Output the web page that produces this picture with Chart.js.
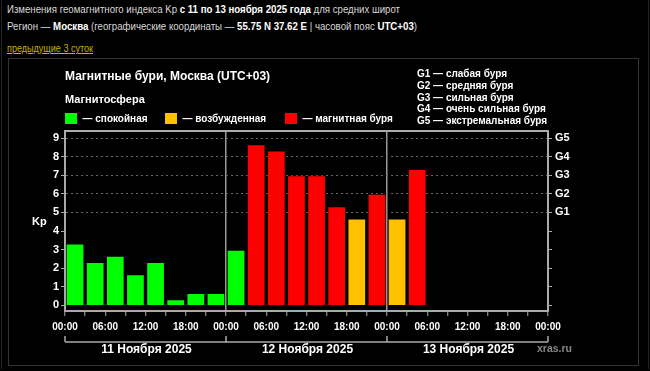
<!DOCTYPE html>
<html>
<head>
<meta charset="utf-8">
<script src="https://cdn.jsdelivr.net/npm/chart.js@4.4.0/dist/chart.umd.min.js"></script>
<style>
  html, body { margin: 0; padding: 0; background: #000; }
  body { width: 650px; height: 371px; position: relative; overflow: hidden; font-family: "Liberation Sans", Arial, sans-serif; }
  #frame { position: absolute; left: 1px; top: 0; width: 646px; height: 369px; border-left: 1px solid #222; border-right: 1px solid #222; }
  #box { position: absolute; left: 8px; top: 58px; width: 629px; height: 306px; border: 1px solid #333; }
  .hdr { position: absolute; left: 7px; font-size: 11.5px; color: #d8d8d8; white-space: nowrap; transform-origin: 0 50%; }
  .hdr b { color: #fff; }
  #l1 { top: 3px; }
  #l2 { top: 20px; }
  #link { position: absolute; left: 7px; top: 42px; font-size: 11.5px; color: #c8b000; text-decoration: underline; white-space: nowrap; transform-origin: 0 50%; }
  canvas { position: absolute; left: 0; top: 0; }
</style>
</head>
<body>
<div id="frame"></div>
<div id="box"></div>
<div class="hdr" id="l1" data-w="393">Изменения геомагнитного индекса Kp <b>с 11 по 13 ноября 2025 года</b> для средних широт</div>
<div class="hdr" id="l2" data-w="410">Регион — <b>Москва</b> (географические координаты — <b>55.75 N 37.62 E</b> | часовой пояс <b>UTC+03</b>)</div>
<div id="link" data-w="86">предыдущие 3 суток</div>
<canvas id="c" width="650" height="371"></canvas>
<script>
// ---- data ----
const startHours = [0, 3, 6, 9, 12, 15, 18, 21, 24, 27, 30, 33, 36, 39, 42, 45, 48, 51];
const kpValues = [3.33, 2.33, 2.67, 1.67, 2.33, 0.33, 0.67, 0.67,
                  3.00, 8.67, 8.33, 7.00, 7.00, 5.33, 4.67, 6.00,
                  4.67, 7.33];
const dayLabels = ['11 Ноября 2025', '12 Ноября 2025', '13 Ноября 2025'];
const yTicks = [0, 1, 2, 3, 4, 5, 6, 7, 8, 9];
const gLabels = ['G1', 'G2', 'G3', 'G4', 'G5'];
const gLegend = ['G1 — слабая буря', 'G2 — средняя буря', 'G3 — сильная буря', 'G4 — очень сильная буря', 'G5 — экстремальная буря'];
const legendItems = ['— спокойная', '— возбужденная', '— магнитная буря'];

// fit header lines to the reference widths
document.querySelectorAll('[data-w]').forEach(el => {
  const w = el.getBoundingClientRect().width;
  el.style.transform = 'scaleX(' + (parseFloat(el.dataset.w) / w) + ')';
});

const GREEN = '#00ff00', ORANGE = '#ffc000', RED = '#ff0000';
const colorFor = v => v < 4 ? GREEN : (v < 5 ? ORANGE : RED);
const FONT = '"Liberation Sans", Arial, sans-serif';

const points = startHours.map((h, i) => ({ x: h + 1.5, y: kpValues[i] }));

const decor = {
  id: 'decor',
  afterDraw(chart) {
    const ctx = chart.ctx;
    const a = chart.chartArea;
    const xs = chart.scales.x;
    ctx.save();
    // top border of plot
    ctx.strokeStyle = '#aaa';
    ctx.lineWidth = 2;
    ctx.beginPath();
    ctx.moveTo(a.left - 1, a.top);
    ctx.lineTo(a.right + 1, a.top);
    ctx.stroke();

    // title
    ctx.fillStyle = '#fff';
    ctx.textBaseline = 'middle';
    ctx.textAlign = 'left';
    ctx.font = 'bold 12px ' + FONT;
    ctx.fillText('Магнитные бури, Москва (UTC+03)', 65, 77);
    ctx.font = 'bold 11px ' + FONT;
    ctx.fillText('Магнитосфера', 65, 100);

    // legend
    const legX = [65, 165, 285];
    const legC = [GREEN, ORANGE, RED];
    ctx.font = 'bold 10px ' + FONT;
    legX.forEach((x, i) => {
      ctx.fillStyle = legC[i];
      ctx.fillRect(x, 113, 12, 11);
      ctx.fillStyle = '#fff';
      ctx.fillText(legendItems[i], x + 17.5, 119);
    });

    // G legend
    gLegend.forEach((t, i) => {
      ctx.fillText(t, 417, 74.5 + i * 11.7);
    });

    // Kp label
    ctx.font = 'bold 11px ' + FONT;
    ctx.fillText('Kp', 32, 222);

    // day bracket
    const yb = 342;
    ctx.strokeStyle = '#aaa';
    ctx.lineWidth = 1.5;
    ctx.beginPath();
    ctx.moveTo(xs.getPixelForValue(0), yb);
    ctx.lineTo(xs.getPixelForValue(72), yb);
    [0, 24, 48, 72].forEach(v => {
      const px = xs.getPixelForValue(v);
      ctx.moveTo(px, yb);
      ctx.lineTo(px, yb - 6);
    });
    ctx.stroke();

    ctx.font = 'bold 12px ' + FONT;
    ctx.textAlign = 'center';
    ctx.fillStyle = '#fff';
    dayLabels.forEach((d, i) => {
      const cx = (xs.getPixelForValue(i * 24) + xs.getPixelForValue(i * 24 + 24)) / 2;
      ctx.fillText(d, cx + 1, 349.5);
    });

    ctx.textAlign = 'left';
    ctx.fillStyle = '#888';
    ctx.font = 'bold 10.5px ' + FONT;
    ctx.fillText('xras.ru', 537, 349.5);
    ctx.restore();
  }
};

new Chart(document.getElementById('c'), {
  type: 'bar',
  data: {
    datasets: [{
      data: points,
      backgroundColor: kpValues.map(colorFor),
      borderColor: 'rgba(0,0,0,0.35)',
      borderWidth: 1,
      barPercentage: 0.93,
      categoryPercentage: 1.0,
      yAxisID: 'y'
    }]
  },
  options: {
    responsive: false,
    animation: false,
    events: [],
    layout: { padding: { left: 20, right: 20, top: 131, bottom: 40 } },
    plugins: { legend: { display: false }, tooltip: { enabled: false }, title: { display: false } },
    scales: {
      x: {
        type: 'linear',
        offset: false,
        min: 0, max: 72,
        afterBuildTicks: ax => { const t = []; for (let v = 0; v <= 72; v += 3) t.push({ value: v }); ax.ticks = t; },
        afterFit: s => { s.height = 20; },
        ticks: {
          autoSkip: false, maxRotation: 0, minRotation: 0,
          color: '#fff', padding: 5,
          font: { family: FONT, size: 10, weight: 'bold' },
          callback: v => v % 6 === 0 ? String(v % 24).padStart(2, '0') + ':00' : ''
        },
        grid: {
          offset: false,
          color: c => (c.tick && c.tick.value % 24 === 0 && c.tick.value > 0 && c.tick.value < 72) ? '#999' : 'rgba(0,0,0,0)',
          lineWidth: 1.5,
          tickColor: '#aaa', tickLength: 5, tickWidth: 1
        },
        border: { display: true, color: '#aaa', width: 2 }
      },
      y: {
        position: 'left',
        min: -0.3, max: 9.38,
        afterBuildTicks: ax => { ax.ticks = yTicks.map(v => ({ value: v })); },
        afterFit: s => { s.width = 45; },
        ticks: { color: '#fff', padding: 2, font: { family: FONT, size: 11, weight: 'bold' } },
        grid: {
          color: c => (c.tick && c.tick.value >= 5) ? '#666' : 'rgba(0,0,0,0)',
          lineWidth: 1,
          tickColor: '#aaa', tickLength: 4
        },
        border: { display: true, color: '#aaa', width: 2, dash: [2, 3] }
      },
      y2: {
        position: 'right',
        min: -0.3, max: 9.38,
        afterBuildTicks: ax => { ax.ticks = yTicks.map(v => ({ value: v })); },
        afterFit: s => { s.width = 82; },
        ticks: {
          color: '#fff', padding: 3, font: { family: FONT, size: 11, weight: 'bold' },
          callback: v => v >= 5 ? gLabels[v - 5] : ''
        },
        grid: { drawOnChartArea: false, tickColor: '#aaa', tickLength: 4 },
        border: { display: true, color: '#aaa', width: 2 }
      }
    }
  },
  plugins: [decor]
});
</script>
</body>
</html>
